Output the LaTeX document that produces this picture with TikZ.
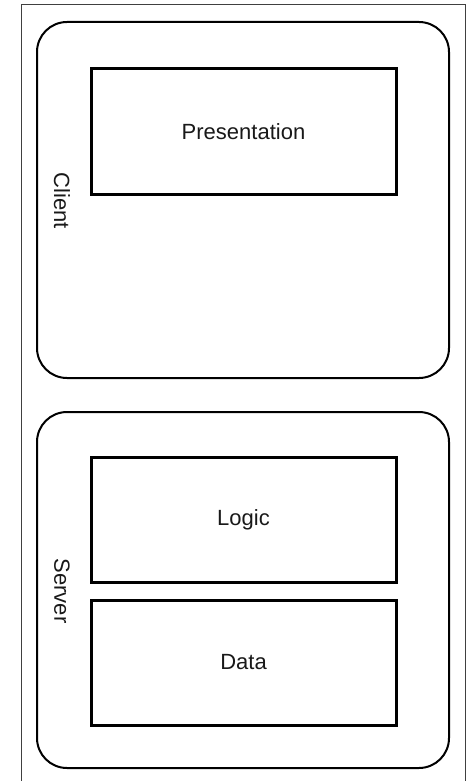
\documentclass[tikz,border=0pt]{standalone}
\usepackage{fontspec}
\setmainfont{Liberation Sans}
\begin{document}
\begin{tikzpicture}[x=1pt,y=-1pt,
  tier/.style={draw=black, line width=2pt, rounded corners=30pt, minimum width=412pt, minimum height=356pt, inner sep=0pt},
  layerbox/.style={draw=black, line width=3pt, minimum width=305pt, minimum height=125pt, inner sep=0pt, font=\fontsize{22}{26}\selectfont, text=black!90},
  tierlabel/.style={rotate=-90, font=\fontsize{22}{26}\selectfont, text=black!90, inner sep=0pt}]
\useasboundingbox (0,0) rectangle (468,781);
\coordinate (fbl) at (21,781);
\coordinate (ftl) at (21,5);
\coordinate (ftr) at (465,5);
\coordinate (fbr) at (465,781);
\draw[line width=1pt, draw=black!75] (fbl) -- (ftl) -- (ftr) -- (fbr);
\node[tier] (client) at (243,200) {};
\node[layerbox] (presentation) at (243.5,131.5) {Presentation};
\node[tierlabel] (clientlabel) at (62,201) {Client};
\node[tier] (server) at (243,590) {};
\node[layerbox] (logic) at (243.5,519.5) {Logic};
\node[layerbox] (data) at (243.5,662.5) {Data};
\node[tierlabel] (serverlabel) at (62,591) {Server};
\end{tikzpicture}
\end{document}
